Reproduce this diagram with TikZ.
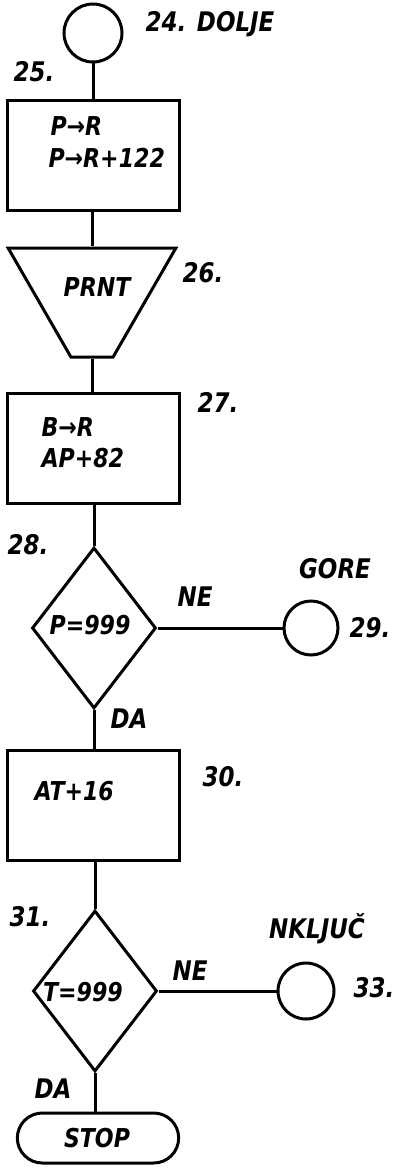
\documentclass[tikz,border=0pt]{standalone}
\usepackage{fontspec}
\setmainfont{DejaVu Sans}[FakeStretch=0.85]
\usetikzlibrary{shapes.geometric,shapes.misc}

\begin{document}
\begin{tikzpicture}[x=1pt, y=-1pt, line width=3pt,
	blok/.style={draw, rectangle, minimum width=172pt, minimum height=110pt},
	odluka/.style={draw, diamond, inner sep=0pt, minimum width=124pt, minimum height=161pt},
	krug/.style={draw, circle, inner sep=0pt, minimum size=#1},
	ispis/.style={draw, trapezium, shape border rotate=180, trapezium stretches=true,
		trapezium left angle=69.6, trapezium right angle=69.6,
		minimum width=168pt, minimum height=109pt, inner sep=2pt},
	kraj/.style={draw, rounded rectangle, minimum width=168pt, minimum height=50pt},
	txt/.style={font=\fontsize{26}{30}\selectfont\bfseries\itshape, inner sep=0pt},
	lbl/.style={font=\fontsize{27}{30}\selectfont\bfseries\itshape, inner sep=0pt}]
	\useasboundingbox (0,0) rectangle (409,1172);
	%blokovi
	\node[krug=58pt] (c24) at (93,33) {};
	\node[blok] (b25) at (93,155) {};
	\node[ispis] (prnt) at (92,302.5) {\strut};
	\node[blok] (b27) at (93,448.5) {};
	\node[odluka] (d28) at (94,628) {};
	\node[krug=54pt] (c29) at (311,628) {};
	\node[blok] (b30) at (93,805) {};
	\node[odluka] (d31) at (95,991) {};
	\node[krug=56pt] (c33) at (306,991) {};
	\node[kraj] (stop) at (98,1138) {};
	%tekst u blokovima
	\node[txt, anchor=west] (t25a) at (49,126) {P→R};
	\node[txt, anchor=west] (t25b) at (47,158) {P→R+122};
	\node[txt] (tprnt) at (97,287) {PRNT};
	\node[txt, anchor=west] (t27a) at (40,427) {B→R};
	\node[txt, anchor=west] (t27b) at (40,458) {AP+82};
	\node[txt] (t28) at (90,625) {P=999};
	\node[txt, anchor=west] (t30) at (33,791) {AT+16};
	\node[txt] (t31) at (83,992) {T=999};
	\node[txt] (tstop) at (97,1138) {STOP};
	%oznake
	\node[lbl] (l24) at (210,24) {24. DOLJE};
	\node[lbl] (l25) at (34,72) {25.};
	\node[lbl] (l26) at (203,273) {26.};
	\node[lbl] (l27) at (218,402) {27.};
	\node[lbl] (l28) at (28,545) {28.};
	\node[lbl] (gore) at (335,569) {GORE};
	\node[lbl] (ne1) at (195,597) {NE};
	\node[lbl] (l29) at (370,628) {29.};
	\node[lbl] (da1) at (129,719) {DA};
	\node[lbl] (l30) at (223,777) {30.};
	\node[lbl] (l31) at (30,917) {31.};
	\node[lbl] (nkljuc) at (317,929) {NKLJUČ};
	\node[lbl] (ne2) at (190,971) {NE};
	\node[lbl] (l33) at (374,988) {33.};
	\node[lbl] (da2) at (53,1089) {DA};
	%veze
	\draw (c24) -- (c24 |- b25.north);
	\draw (b25.south -| prnt) -- (prnt.north);
	\draw (prnt.south) -- (prnt.south |- b27.north);
	\draw (b27.south -| d28) -- (d28.north);
	\draw (d28.east) -- (c29.west);
	\draw (d28.south) -- (d28.south |- b30.north);
	\draw (b30.south -| d31) -- (d31.north);
	\draw (d31.east) -- (c33.west);
	\draw (d31.south) -- (d31.south |- stop.north);
\end{tikzpicture}
\end{document}
